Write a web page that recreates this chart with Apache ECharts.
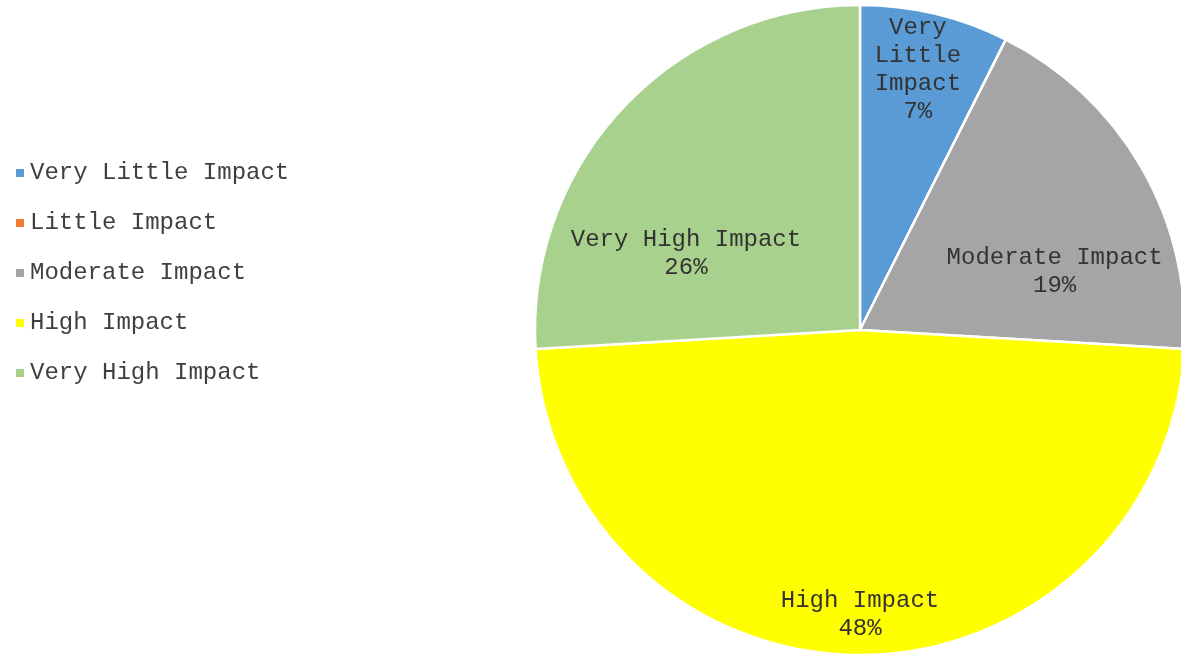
<!DOCTYPE html>
<html><head><meta charset="utf-8">
<script src="https://cdn.jsdelivr.net/npm/echarts@6/dist/echarts.min.js"></script>
<style>html,body{margin:0;padding:0;background:#fff}#c{width:1181px;height:656px}</style>
</head><body><div id="c"></div>
<script>
const categories = ['Very Little Impact','Little Impact','Moderate Impact','High Impact','Very High Impact'];
const values = [2, 0, 5, 13, 7];
const colors = ['#5B9BD5','#ED7D31','#A5A5A5','#FFFF00','#A9D18E'];
// label placement inside each slice: radius fraction and position along the slice's arc (0..1)
const labelRadiusFrac = [0.82, 0.6, 0.625, 0.877, 0.585];
const labelArcFrac = [0.47, 0.5, 0.70, 0.5, 0.29];

const cx = 860, cy = 330, R = 325;
const total = values.reduce((a,b)=>a+b,0);
let cum = 0;
const labelAng = values.map((v,i) => {
  const a = (cum + v * labelArcFrac[i]) / total * 2 * Math.PI;
  cum += v;
  return a;
});

const chart = echarts.init(document.getElementById('c'));
chart.setOption({
  animation: false,
  color: colors,
  legend: {
    orient: 'vertical', left: 14, top: 161, itemGap: 26, padding: 0,
    icon: 'rect', itemWidth: 10, itemHeight: 10,
    textStyle: { fontFamily: 'Liberation Mono', fontSize: 24, color: '#404040', lineHeight: 24 },
    data: categories
  },
  series: [{
    type: 'pie',
    center: [cx, cy], radius: R,
    startAngle: 90, clockwise: true,
    itemStyle: { borderColor: '#fff', borderWidth: 2.5 },
    label: {
      show: true, position: 'inside',
      fontFamily: 'Liberation Mono', fontSize: 24, color: '#333', lineHeight: 28,
      formatter: p => {
        if (p.value === 0) return '';
        const pct = Math.round(p.value / total * 100) + '%';
        const name = p.percent < 10 ? p.name.split(' ').join('\n') : p.name;
        return name + '\n' + pct;
      }
    },
    labelLine: { show: false },
    labelLayout: p => {
      const i = p.dataIndex;
      const a = labelAng[i];
      const r = labelRadiusFrac[i] * R;
      return { x: cx + r * Math.sin(a), y: cy - r * Math.cos(a), align: 'center', verticalAlign: 'middle' };
    },
    data: categories.map((n,i)=>({ name: n, value: values[i] }))
  }]
});
</script></body></html>
